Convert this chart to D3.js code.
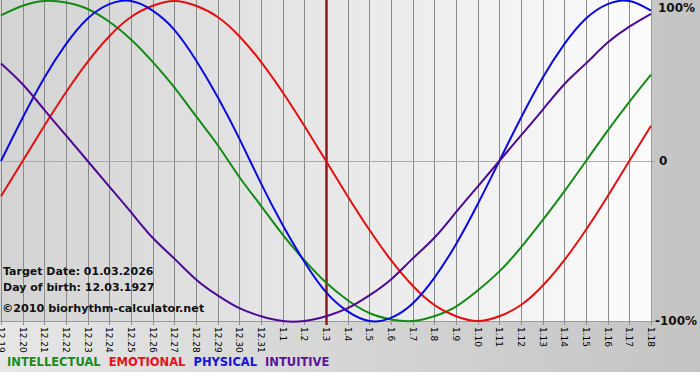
<!DOCTYPE html>
<html>
<head>
<meta charset="utf-8">
<script src="https://cdn.jsdelivr.net/npm/d3@7"></script>
<style>
  html, body { margin: 0; padding: 0; background: #fff; }
  svg { display: block; font-family: "DejaVu Sans", Verdana, sans-serif; }
</style>
</head>
<body>
<svg width="700" height="380"></svg>
<script>
// day labels along the bottom
const days = ["12.19","12.20","12.21","12.22","12.23","12.24","12.25","12.26","12.27","12.28",
  "12.29","12.30","12.31","1.1","1.2","1.3","1.4","1.5","1.6","1.7","1.8","1.9","1.10",
  "1.11","1.12","1.13","1.14","1.15","1.16","1.17","1.18"];

const targetDay = "1.3";

// cycle values per day, -1..1
const intellectual = [0.91, 0.97, 1.00, 0.99, 0.95, 0.87, 0.76, 0.62, 0.46, 0.28, 0.10,
  -0.10, -0.28, -0.46, -0.62, -0.76, -0.87, -0.95, -0.99, -1.00, -0.97, -0.91, -0.81,
  -0.69, -0.54, -0.37, -0.19, 0.00, 0.19, 0.37, 0.54];
const emotional = [-0.22, 0.00, 0.22, 0.43, 0.62, 0.78, 0.90, 0.97, 1.00, 0.97, 0.90,
  0.78, 0.62, 0.43, 0.22, 0.00, -0.22, -0.43, -0.62, -0.78, -0.90, -0.97, -1.00, -0.97,
  -0.90, -0.78, -0.62, -0.43, -0.22, 0.00, 0.22];
const physical = [0.00, 0.27, 0.52, 0.73, 0.89, 0.98, 1.00, 0.94, 0.82, 0.63, 0.40,
  0.14, -0.14, -0.40, -0.63, -0.82, -0.94, -1.00, -0.98, -0.89, -0.73, -0.52, -0.27,
  0.00, 0.27, 0.52, 0.73, 0.89, 0.98, 1.00, 0.94];
const intuitive = [0.61, 0.48, 0.32, 0.16, 0.00, -0.16, -0.32, -0.48, -0.61, -0.74,
  -0.84, -0.92, -0.97, -1.00, -1.00, -0.97, -0.92, -0.84, -0.74, -0.61, -0.48, -0.32,
  -0.16, 0.00, 0.16, 0.32, 0.48, 0.61, 0.74, 0.84, 0.92];

const seriesNames = ["INTELLECTUAL", "EMOTIONAL", "PHYSICAL", "INTUITIVE"];
const seriesValues = [intellectual, emotional, physical, intuitive];
const lineColors = ["#138a13", "#e01010", "#0a0ae0", "#4c0a94"];
const legendColors = ["#1c8a1c", "#e8101c", "#1414d8", "#5a1496"];

const yTicks = [1, 0, -1];
const yTickLabels = ["100%", "0", "-100%"];

const infoLines = ["Target Date: 01.03.2026", "Day of birth: 12.03.1927"];
const copyright = "\u00a92010 biorhythm-calculator.net";

const svg = d3.select("svg");
const W = 700;
const plot = { left: 0, right: 651, top: 0, bottom: 321 };

const x = d3.scaleLinear().domain([0, days.length - 1]).range([1, plot.right]);
const y = d3.scaleLinear().domain([-1, 1]).range([plot.bottom, 1]);

const defs = svg.append("defs");
const outerGrad = defs.append("linearGradient").attr("id", "outerGrad");
outerGrad.append("stop").attr("offset", "0%").attr("stop-color", "#e6e6e6");
outerGrad.append("stop").attr("offset", "100%").attr("stop-color", "#c4c4c4");
const plotGrad = defs.append("linearGradient").attr("id", "plotGrad");
plotGrad.append("stop").attr("offset", "0%").attr("stop-color", "#d3d3d3");
plotGrad.append("stop").attr("offset", "100%").attr("stop-color", "#fcfcfc");

svg.append("rect").attr("width", W).attr("height", 372).attr("fill", "url(#outerGrad)");
svg.append("rect")
  .attr("x", plot.left).attr("y", plot.top)
  .attr("width", plot.right - plot.left).attr("height", plot.bottom - plot.top)
  .attr("fill", "url(#plotGrad)");

// vertical day grid, reaching down as ticks
svg.append("g")
  .selectAll("line")
  .data(days)
  .join("line")
  .attr("x1", (d, i) => Math.round(x(i)) + 0.5)
  .attr("x2", (d, i) => Math.round(x(i)) + 0.5)
  .attr("y1", plot.top)
  .attr("y2", plot.bottom + 4)
  .attr("stroke", "#8a8a8a")
  .attr("stroke-width", 1);

// horizontal lines at 0 and -100, ticks at the right
svg.append("g")
  .selectAll("line")
  .data(yTicks.filter(d => d < 1))
  .join("line")
  .attr("x1", plot.left)
  .attr("x2", plot.right + 4)
  .attr("y1", d => Math.round(y(d)) + 0.5)
  .attr("y2", d => Math.round(y(d)) + 0.5)
  .attr("stroke", d => d === 0 ? "#ababab" : "#9a9a9a");

svg.append("line")
  .attr("x1", plot.right + 0.5).attr("x2", plot.right + 0.5)
  .attr("y1", plot.top).attr("y2", plot.bottom)
  .attr("stroke", "#9a9a9a");

// target date marker
const ti = days.indexOf(targetDay);
svg.append("line")
  .attr("x1", Math.round(x(ti)) + 0.5).attr("x2", Math.round(x(ti)) + 0.5)
  .attr("y1", plot.top).attr("y2", plot.bottom + 4)
  .attr("stroke", "#8a1c1c")
  .attr("stroke-width", 2.5);

const line = d3.line()
  .x((d, i) => x(i))
  .y(d => y(d))
  .curve(d3.curveNatural);

svg.append("g")
  .attr("fill", "none")
  .attr("stroke-width", 2)
  .selectAll("path")
  .data(seriesValues)
  .join("path")
  .attr("stroke", (d, i) => lineColors[i])
  .attr("d", line);

// x labels, rotated
svg.append("g")
  .selectAll("text")
  .data(days)
  .join("text")
  .attr("transform", (d, i) => `translate(${Math.round(x(i)) + 0.5},${plot.bottom + 6}) rotate(90)`)
  .attr("dy", "0.35em")
  .attr("font-size", 9)
  .attr("fill", "#000")
  .text(d => d);

// y labels on the right
svg.append("g")
  .selectAll("text")
  .data(yTicks)
  .join("text")
  .attr("x", (d, i) => yTickLabels[i] === "0" ? 659 : (yTickLabels[i].startsWith("-") ? 655 : 658))
  .attr("y", d => Math.max(8, y(d)))
  .attr("dy", "0.35em")
  .attr("font-size", 12)
  .attr("font-weight", "bold")
  .attr("fill", "#111")
  .text((d, i) => yTickLabels[i]);

// info block
svg.append("g")
  .selectAll("text")
  .data(infoLines)
  .join("text")
  .attr("x", 3)
  .attr("y", (d, i) => 275 + i * 16)
  .attr("font-size", 11)
  .attr("font-weight", "bold")
  .attr("fill", "#111")
  .text(d => d);

svg.append("text")
  .attr("x", 2).attr("y", 312)
  .attr("font-size", 11.2)
  .attr("font-weight", "bold")
  .attr("fill", "#111")
  .text(copyright);

// legend, laid out left to right
let lx = 7;
seriesNames.forEach((name, i) => {
  const t = svg.append("text")
    .attr("x", lx).attr("y", 366)
    .attr("font-size", 11.5)
    .attr("font-weight", "bold")
    .attr("fill", legendColors[i])
    .text(name);
  lx += t.node().getComputedTextLength() + 8;
});
</script>
</body>
</html>
